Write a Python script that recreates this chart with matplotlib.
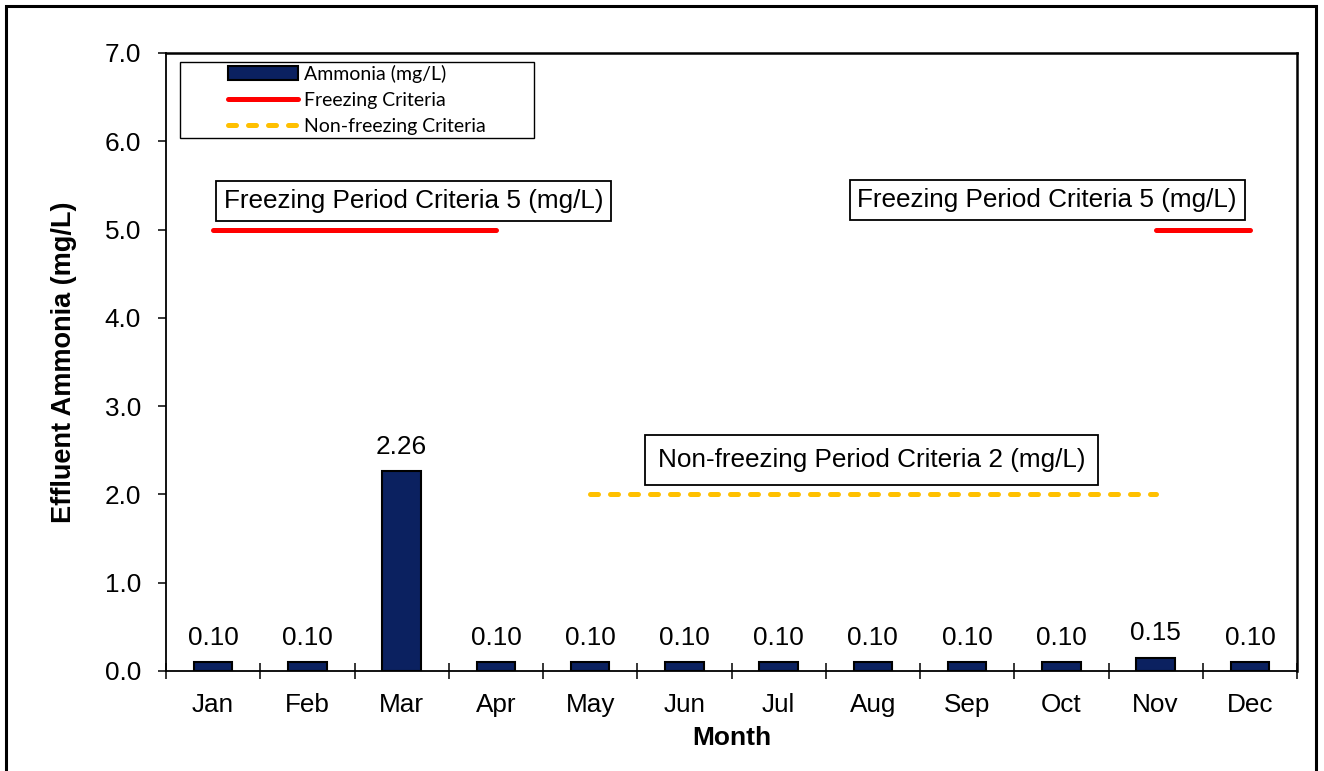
import numpy as np
import matplotlib.pyplot as plt
from matplotlib.patches import Rectangle
from matplotlib.lines import Line2D
from matplotlib.patches import Patch

months = ['Jan', 'Feb', 'Mar', 'Apr', 'May', 'Jun', 'Jul', 'Aug', 'Sep', 'Oct', 'Nov', 'Dec']
ammonia = [0.10, 0.10, 2.26, 0.10, 0.10, 0.10, 0.10, 0.10, 0.10, 0.10, 0.15, 0.10]
freezing = [5, 5, 5, 5, np.nan, np.nan, np.nan, np.nan, np.nan, np.nan, 5, 5]
non_freezing = [np.nan, np.nan, np.nan, np.nan, 2, 2, 2, 2, 2, 2, 2, np.nan]

plt.rcParams['font.family'] = ['Liberation Sans', 'DejaVu Sans']
FS = 18.8

fig = plt.figure(figsize=(13.24, 7.71), dpi=100)
ax = fig.add_axes([166 / 1324, 100 / 771, 1131 / 1324, 618 / 771])

# outer chart border
fig.patches.append(Rectangle((6 / 1324, -0.02), 1310 / 1324, 1 - 6 / 771 + 0.02,
                             transform=fig.transFigure, fill=False, ec='black', lw=2.2))

x = np.arange(len(months))
ax.bar(x, ammonia, width=0.41, color='#0b2160', edgecolor='black', linewidth=1.5, zorder=3)

for xi, v in zip(x, ammonia):
    ax.annotate(f'{v:.2f}', (xi, v), xytext=(0, 9), textcoords='offset points',
                ha='center', va='bottom', fontsize=FS)

ax.plot(x, freezing, color='#ff0000', lw=3.6, solid_capstyle='round', zorder=4)
ax.plot(x, non_freezing, color='#ffc000', lw=3.6, dashes=(1.6, 2.4),
        dash_capstyle='round', zorder=4)

box = dict(boxstyle='square,pad=0.3', fc='white', ec='black', lw=1.3)
ax.text(2.13, 5.32, 'Freezing Period Criteria 5 (mg/L)', ha='center', va='center',
        fontsize=FS, bbox=box, zorder=5)
ax.text(8.85, 5.335, 'Freezing Period Criteria 5 (mg/L)', ha='center', va='center',
        fontsize=FS, bbox=box, zorder=5)
ax.text(6.987, 2.39, 'Non-freezing Period Criteria 2 (mg/L)', ha='center', va='center',
        fontsize=FS, bbox=dict(boxstyle='square,pad=0.5', fc='white', ec='black', lw=1.3), zorder=5)

ax.set_xlim(-0.5, 11.5)
ax.set_ylim(0, 7)
ax.set_yticks(np.arange(0, 7.01, 1.0))
ax.set_yticklabels([f'{t:.1f}' for t in np.arange(0, 7.01, 1.0)])
ax.set_xticks(x)
ax.set_xticklabels(months)
ax.set_xticks(np.arange(-0.5, 12, 1), minor=True)
ax.tick_params(axis='x', which='major', length=0, pad=16, labelsize=FS)
ax.tick_params(axis='x', which='minor', direction='inout', length=12, width=1.1)
ax.tick_params(axis='y', direction='out', length=6, width=1.1, pad=12, labelsize=FS)

for s in ax.spines.values():
    s.set_linewidth(1.8)
ax.spines['left'].set_linewidth(1.3)
ax.spines['bottom'].set_linewidth(1.3)

ax.set_xlabel('Month', fontsize=19, fontweight='bold', labelpad=6)
ax.set_ylabel('Effluent Ammonia (mg/L)', fontsize=19.5, fontweight='bold', labelpad=20)

# legend: box drawn separately to get the wide left margin
ax.add_patch(Rectangle(((180 - 166) / 1131, (671 - 138) / 618), 354 / 1131, 76 / 618,
                       transform=ax.transAxes, fill=True, fc='white', ec='black', lw=1.0, zorder=6))
handles = [Patch(facecolor='#0b2160', edgecolor='black', linewidth=1.5),
           Line2D([], [], color='#ff0000', lw=3.6, solid_capstyle='round'),
           Line2D([], [], color='#ffc000', lw=3.6, dashes=(1.6, 2.4), dash_capstyle='round')]
labels = ['Ammonia (mg/L)', 'Freezing Criteria', 'Non-freezing Criteria']
leg = ax.legend(handles, labels, loc='upper left', bbox_to_anchor=((228 - 166) / 1131, (671 - 65) / 618),
                frameon=False, borderpad=0.0, borderaxespad=0.0, handlelength=3.6,
                handletextpad=0.3, labelspacing=0.46, prop={'family': 'Lato', 'size': 14})
leg.set_zorder(7)

fig.savefig('out.png', dpi=100)
